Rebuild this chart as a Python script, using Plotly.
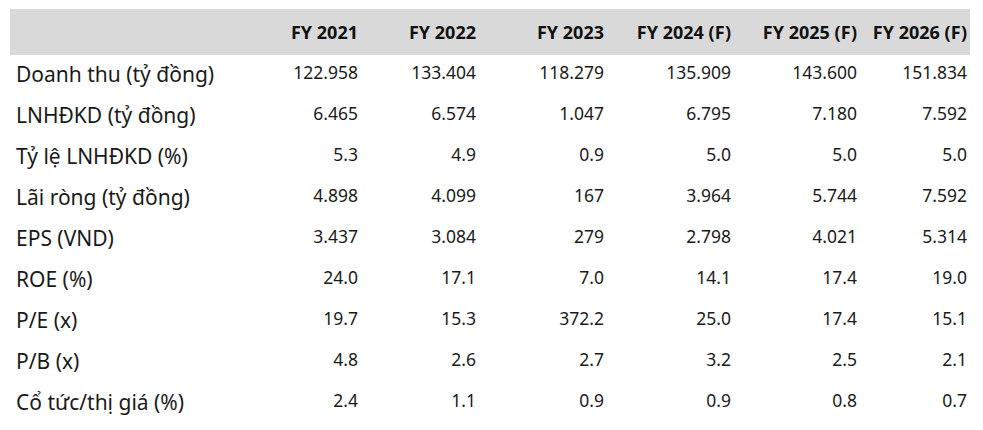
import plotly.graph_objects as go

metrics = ["Doanh thu (tỷ đồng)", "LNHĐKD (tỷ đồng)", "Tỷ lệ LNHĐKD (%)", "Lãi ròng (tỷ đồng)",
           "EPS (VND)", "ROE (%)", "P/E (x)", "P/B (x)", "Cổ tức/thị giá (%)"]
years = ["FY 2021", "FY 2022", "FY 2023", "FY 2024 (F)", "FY 2025 (F)", "FY 2026 (F)"]

fy2021 = [122958, 6465, 5.3, 4898, 3437, 24.0, 19.7, 4.8, 2.4]
fy2022 = [133404, 6574, 4.9, 4099, 3084, 17.1, 15.3, 2.6, 1.1]
fy2023 = [118279, 1047, 0.9, 167, 279, 7.0, 372.2, 2.7, 0.9]
fy2024 = [135909, 6795, 5.0, 3964, 2798, 14.1, 25.0, 3.2, 0.9]
fy2025 = [143600, 7180, 5.0, 5744, 4021, 17.4, 17.4, 2.5, 0.8]
fy2026 = [151834, 7592, 5.0, 7592, 5314, 19.0, 15.1, 2.1, 0.7]

is_integer_row = [True, True, False, True, True, False, False, False, False]


def fmt(values):
    out = []
    for v, is_int in zip(values, is_integer_row):
        if is_int:
            out.append(f"{int(v):,}".replace(",", "."))
        else:
            out.append(f"{v:.1f}")
    return out


columns = [metrics] + [fmt(c) for c in (fy2021, fy2022, fy2023, fy2024, fy2025, fy2026)]
header_labels = [""] + ["<b>" + y.replace(" ", "\u00a0") + "</b>" for y in years]

W, H = 983, 430
FONT = "Noto Sans, Open Sans, sans-serif"

fig = go.Figure(go.Table(
    domain=dict(x=[0, 967 / W], y=[0, 1 - 4 / H]),
    columnwidth=[246, 112, 118, 128, 127, 126, 110],
    header=dict(
        values=header_labels,
        fill_color="rgba(0,0,0,0)",
        line_color="rgba(0,0,0,0)",
        line_width=0,
        align=["left"] + ["right"] * 6,
        font=dict(family=FONT, size=18, color="#111111"),
        height=46,
    ),
    cells=dict(
        values=columns,
        fill_color="rgba(0,0,0,0)",
        line_color="rgba(0,0,0,0)",
        line_width=0,
        align=["left"] + ["right"] * 6,
        font=dict(family=FONT, size=[21] + [17.5] * 6, color="#1a1a1a"),
        height=41,
    ),
))

fig.add_shape(type="rect", xref="paper", yref="paper", layer="below",
              x0=2 / W, x1=962 / W, y0=1 - 47 / H, y1=1 - 1 / H,
              fillcolor="#d9d9d9", line_width=0)

fig.update_layout(
    width=W, height=H,
    margin=dict(l=0, r=0, t=0, b=0),
    paper_bgcolor="white",
    plot_bgcolor="rgba(0,0,0,0)",
)

fig.write_html("out.html")
